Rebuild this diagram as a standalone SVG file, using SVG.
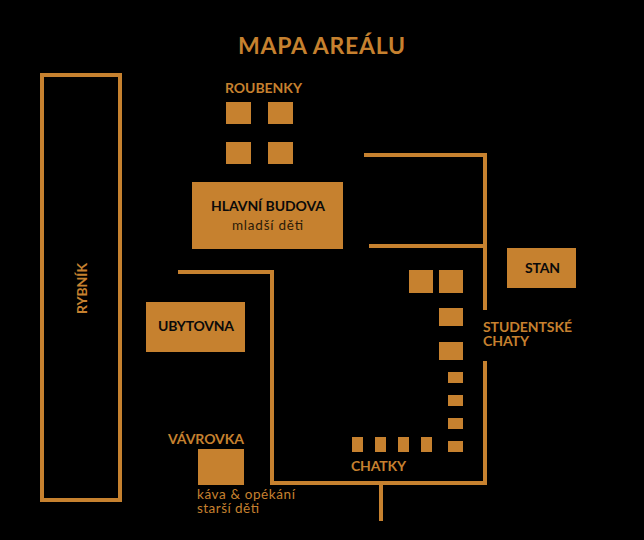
<svg xmlns="http://www.w3.org/2000/svg" width="644" height="540" viewBox="0 0 644 540">
<style>
text{font-family:"Lato","Liberation Sans",sans-serif}
.b{fill:#c6812f}
.l{fill:#c6812f;font-weight:700;font-size:14px}
.t{fill:#c6812f;font-weight:700;font-size:23px}
.n{fill:#c6812f;font-weight:400;font-size:13.5px}
.d{fill:#0a0a0a;font-weight:700;font-size:14px}
.s{fill:#2a1a08;font-weight:400;font-size:13.5px}
.line{fill:none;stroke:#c6812f;stroke-width:4}
</style>
<rect width="644" height="540" fill="#000"/>
<text class="t" x="238" y="54" textLength="167">MAPA AREÁLU</text>
<g id="connectors">
<path class="line" d="M364 155H485V310"/>
<path class="line" d="M369 246H485"/>
<path class="line" d="M485 361V483H272V272H178"/>
<path class="line" d="M381 483V521"/>
</g>
<g id="rybnik">
<rect class="line" x="42" y="75" width="78" height="425"/>
<text class="l" transform="translate(87 314) rotate(-90)" textLength="51">RYBNÍK</text>
</g>
<g id="roubenky">
<text class="l" x="225" y="93" textLength="77">ROUBENKY</text>
<rect class="b" x="226" y="102" width="25" height="22"/>
<rect class="b" x="268" y="102" width="25" height="22"/>
<rect class="b" x="226" y="142" width="25" height="22"/>
<rect class="b" x="268" y="142" width="25" height="22"/>
</g>
<g id="hlavni-budova">
<rect class="b" x="192" y="182" width="151" height="67"/>
<text class="d" x="211" y="211" textLength="114">HLAVNÍ BUDOVA</text>
<text class="s" x="232" y="230" textLength="71">mladší děti</text>
</g>
<g id="ubytovna">
<rect class="b" x="146" y="302" width="99" height="50"/>
<text class="d" x="158" y="331" textLength="76">UBYTOVNA</text>
</g>
<g id="vavrovka">
<text class="l" x="168" y="444" textLength="76">VÁVROVKA</text>
<rect class="b" x="198" y="449" width="46" height="36"/>
<text class="n" x="197" y="499" textLength="98">káva &amp; opékání</text>
<text class="n" x="197" y="513" textLength="62">starší děti</text>
</g>
<g id="stan">
<rect class="b" x="507" y="248" width="69" height="40"/>
<text class="d" x="525" y="273" textLength="35">STAN</text>
</g>
<g id="studentske-chaty">
<rect class="b" x="409" y="270" width="24" height="23"/>
<rect class="b" x="439" y="270" width="24" height="23"/>
<rect class="b" x="439" y="308" width="24" height="18"/>
<rect class="b" x="439" y="342" width="24" height="18"/>
<text class="l" x="483" y="332" textLength="89">STUDENTSKÉ</text>
<text class="l" x="483" y="346" textLength="46">CHATY</text>
</g>
<g id="chatky">
<rect class="b" x="448" y="372" width="15" height="11"/>
<rect class="b" x="448" y="395" width="15" height="11"/>
<rect class="b" x="448" y="418" width="15" height="11"/>
<rect class="b" x="448" y="441" width="15" height="11"/>
<rect class="b" x="352" y="437" width="11" height="15"/>
<rect class="b" x="375" y="437" width="11" height="15"/>
<rect class="b" x="398" y="437" width="11" height="15"/>
<rect class="b" x="421" y="437" width="11" height="15"/>
<text class="l" x="351" y="471" textLength="55">CHATKY</text>
</g>
</svg>
